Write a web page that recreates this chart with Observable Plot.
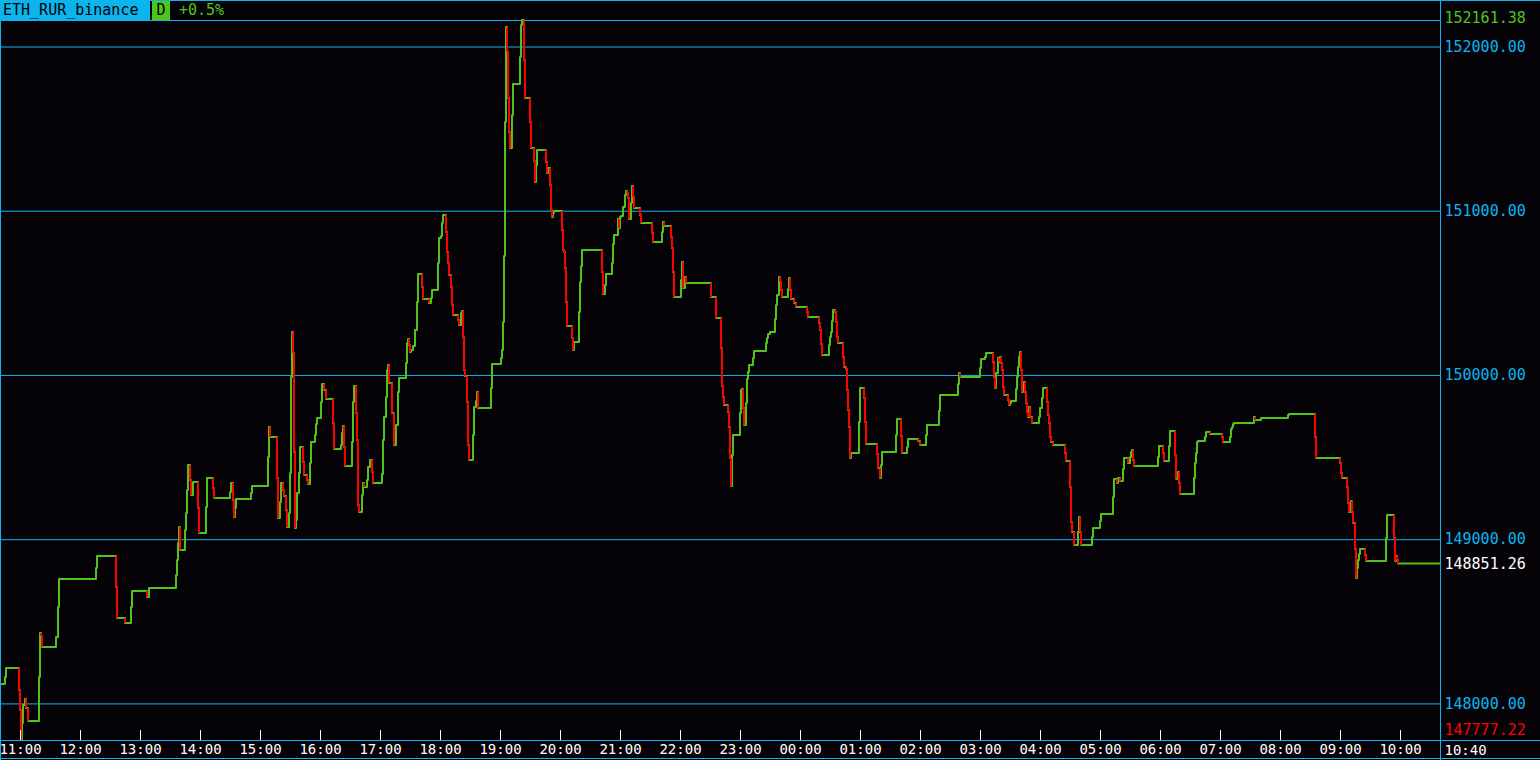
<!DOCTYPE html>
<html><head><meta charset="utf-8">
<script src="https://cdn.jsdelivr.net/npm/d3@7"></script>
<script src="https://cdn.jsdelivr.net/npm/@observablehq/plot@0.6"></script>
<style>
body{margin:0;background:#050308;overflow:hidden}
#wrap{position:relative;width:1540px;height:760px}
#hdr span{position:absolute;font:15px "DejaVu Sans Mono",monospace;white-space:pre}
</style></head><body>
<div id="wrap"><div id="chart"></div><div id="hdr"></div></div>
<script>
// ---- header values ----
const symbol = "ETH_RUR_binance";
const period = "D";
const change = "+0.5%";

// ---- price levels ----
const gridPrices = [148000, 149000, 150000, 151000, 152000];
const maxPrice = 152161.38;
const minPrice = 147777.22;
const lastPrice = 148851.26;

// ---- series: minutes since 10:40 (start) and price from that minute on ----
const minutes = [
0,5,6,19,20,21,22,23,25,26,28,39,40,41,42,56,58,59,96,97,116,117,125,131,132,147,149,
176,177,178,179,180,185,186,187,188,190,191,193,198,199,206,207,213,214,230,231,233,234,235,236,251,252,
268,269,270,277,278,280,281,283,284,286,287,289,290,291,292,293,294,295,296,297,299,300,303,304,307,308,
310,311,315,316,317,321,322,324,326,333,334,341,342,343,344,345,352,353,354,356,357,358,359,
362,363,364,367,368,370,372,373,382,383,384,386,387,388,389,392,394,396,398,399,406,407,408,409,410,
411,413,415,417,418,422,423,429,431,432,438,439,441,442,443,446,447,448,449,451,452,453,458,459,461,462,
463,464,465,467,468,469,473,474,476,477,478,491,492,501,502,503,504,505,506,507,508,509,510,512,513,
520,521,522,524,525,530,531,534,535,536,537,546,547,548,550,551,552,553,554,562,563,564,565,566,567,
572,573,574,579,580,581,582,602,603,605,606,612,613,614,618,619,620,621,623,625,626,627,628,629,631,632,
633,634,640,641,652,653,662,663,664,671,672,673,674,681,682,683,685,686,711,716,721,722,723,724,
728,729,730,731,732,733,740,741,742,743,744,746,747,748,749,753,754,766,767,768,770,775,776,777,779,
780,781,782,788,789,790,791,794,796,807,808,819,820,821,822,829,830,831,832,833,835,836,837,838,
843,844,846,847,848,849,850,851,859,860,864,865,866,877,878,880,881,882,896,897,901,902,907,908,
918,920,926,927,939,940,958,959,960,980,981,985,986,993,994,995,996,998,999,1000,1001,1002,1003,1004,
1008,1009,1010,1011,1016,1017,1018,1019,1020,1021,1022,1023,1024,1025,1026,1027,1028,1029,1030,1032,
1039,1040,1042,1043,1047,1048,1049,1050,1051,1053,1065,1066,1070,1071,1072,1074,1078,1079,1080,1081,
1092,1093,1100,1101,1113,1114,1117,1118,1120,1123,1124,1128,1130,1131,1132,1133,1134,1158,1159,1163,1164,
1169,1170,1175,1176,1177,1178,1179,1180,1194,1195,1196,1197,1198,1205,1206,1210,1222,1223,1230,1231,1232,
1233,1234,1254,1255,1261,1288,1289,1315,1316,1340,1341,1342,1347,1348,1349,1350,1351,1352,1353,1355,1356,
1357,1358,1359,1360,1365,1366,1386,1387,1394,1395,1396,1397,1398
];
const prices = [
148118,148161,148216,148082,147960,147777.22,147881,147990,148027,147972,147893,148161,148429,148410,148344,148404,148587,148758,148825,148898,148709,148520,148490,148587,148685,148648,148703,
148782,148873,148977,149074,148934,149056,149159,149300,149452,149360,149269,149348,149190,149038,149196,149373,149312,149251,149287,149342,149239,149135,149190,149245,149281,149324,
149500,149683,149622,149373,149129,149226,149342,149300,149263,149178,149074,149159,149403,149988,150262,150134,149531,149068,149117,149281,149403,149561,149470,149391,149360,149336,
149464,149592,149634,149701,149738,149835,149945,149908,149854,149707,149549,149574,149647,149689,149561,149446,149592,149835,149933,149768,149604,149208,149166,
149269,149342,149318,149360,149440,149482,149409,149342,149397,149604,149744,149866,150030,150061,149951,149768,149574,149695,149896,149981,150073,150195,150219,150182,150140,
150152,150176,150274,150444,150615,150536,150463,150438,150469,150517,150682,150834,150846,150925,150974,150870,150749,150682,150609,150536,150426,150365,150335,150304,150377,150389,
150231,150030,149994,149835,149574,149482,149634,149805,149841,149896,149799,149921,150067,150103,150152,150322,150724,151540,152119,151967,151686,151479,151382,151583,151772,
151936,152131,152161.38,151918,151686,151540,151382,151303,151175,151278,151370,151297,151230,151260,151157,151004,150962,150986,150998,150883,150761,150749,150651,150444,150298,
150225,150152,150201,150383,150566,150663,150761,150627,150493,150548,150615,150682,150797,150852,150950,150895,150962,150968,151023,151096,151120,151108,151078,150950,151047,151151,
151084,151017,150974,150925,150864,150810,150870,150931,150907,150840,150773,150627,150475,150578,150688,150530,150596,150560,150475,150347,150164,149933,149866,149817,
149774,149683,149494,149324,149513,149634,149768,149908,149914,149799,149695,149829,149975,150018,150061,150103,150146,150195,150225,150249,150262,150341,150426,150487,150596,
150566,150517,150475,150523,150590,150517,150463,150438,150414,150383,150353,150316,150274,150189,150122,150182,150231,150262,150329,150396,150383,150322,150231,150195,
150109,150048,150036,149908,149787,149683,149494,149525,149714,149921,149860,149714,149580,149519,149433,149373,149452,149531,149634,149732,149628,149525,149561,149610,
149598,149574,149634,149695,149781,149878,149945,150012,149988,150042,150097,150109,150134,150079,149988,149921,150012,150103,150079,150109,150073,150030,149927,149878,
149848,149817,149829,149841,149914,149988,150048,150109,150140,150030,149896,149927,149957,149896,149829,149774,149744,149805,149744,149707,
149744,149799,149860,149921,149835,149756,149707,149622,149592,149574,149525,149476,149318,149105,149044,148965,149044,149135,149044,148965,
149013,149068,149111,149153,149257,149366,149342,149373,149354,149427,149494,149464,149500,149531,149543,149482,149446,149500,149567,149525,149476,
149567,149659,149513,149366,149403,149409,149342,149275,149373,149464,149525,149592,149598,149622,149653,149640,149622,149592,149622,149671,149683,
149701,149707,149744,149726,149738,149756,149762,149622,149494,149464,149403,149373,149318,149220,149166,149220,149233,149166,149099,148940,148764,
148825,148873,148910,148940,148904,148867,149007,149147,149007,148867,148898,148873,148851.26
];

// ---- colours ----
const bg = "#050308", cyan = "#0cb4ee", green = "#50c41c", red = "#ff0000";

const startTime = new Date(2024, 0, 1, 10, 40);
const endTime = new Date(+startTime + 24 * 60 * 60000);
const toTime = m => new Date(+startTime + m * 60000);

const pts = minutes.map((m, i) => ({t: toTime(m), p: prices[i]}));
const linePts = pts.concat([{t: endTime, p: prices[prices.length - 1]}]);
const drops = [];
for (let i = 1; i < pts.length; i++) {
  if (pts[i].p < pts[i - 1].p) drops.push({t: pts[i].t, p0: pts[i - 1].p, p1: pts[i].p});
}
const hourTicks = d3.timeHour.range(startTime, endTime);
const fmt2 = d3.format(".2f");
const fmtT = d3.timeFormat("%H:%M");
const font = "DejaVu Sans Mono";

const chart = Plot.plot({
  width: 1540, height: 760,
  marginLeft: 0, marginRight: 100, marginTop: 20, marginBottom: 20,
  style: {background: "transparent", fontFamily: font, fontSize: "15px", color: "white", overflow: "visible"},
  x: {type: "time", domain: [startTime, endTime]},
  y: {domain: [minPrice, maxPrice]},
  marks: [
    Plot.ruleY(gridPrices, {stroke: cyan}),
    Plot.ruleY([maxPrice], {stroke: cyan}),
    Plot.line(linePts, {x: "t", y: "p", curve: "step-after", stroke: green, strokeWidth: 2, dx: -0.5, dy: -0.5}),
    Plot.link(drops, {x1: "t", x2: "t", y1: "p0", y2: "p1", stroke: red, strokeWidth: 2, dx: -0.5, dy: -0.5}),
    Plot.tickX(hourTicks, {x: d => d, stroke: "white", insetTop: 710}),
    Plot.ruleX([startTime], {stroke: cyan, insetTop: -20, insetBottom: -20}),
    Plot.ruleX([endTime], {stroke: cyan, insetTop: -20, insetBottom: -20}),
    Plot.ruleY([maxPrice], {stroke: cyan, dy: -20, insetRight: -100}),
    Plot.ruleY([minPrice], {stroke: cyan, insetRight: -100}),
    Plot.ruleY([minPrice], {stroke: cyan, dy: 18, insetRight: -100}),
    Plot.axisY(gridPrices, {anchor: "right", tickSize: 0, tickPadding: 4, tickFormat: fmt2, color: cyan, fontSize: 15, label: null}),
    Plot.axisX(hourTicks, {anchor: "bottom", tickSize: 0, tickPadding: 4, tickFormat: fmtT, color: "white", fontSize: 14, label: null}),
    Plot.text([maxPrice], {y: d => d, frameAnchor: "right", dx: 4, dy: -2, textAnchor: "start", fill: green, fontSize: 15, text: fmt2}),
    Plot.text([lastPrice], {y: d => d, frameAnchor: "right", dx: 4, textAnchor: "start", fill: "white", fontSize: 15, text: fmt2}),
    Plot.text([minPrice], {y: d => d, frameAnchor: "right", dx: 4, dy: -10, textAnchor: "start", fill: red, fontSize: 15, text: fmt2}),
    Plot.text([endTime], {x: d => d, frameAnchor: "bottom", lineAnchor: "middle", dx: 4, dy: 10, textAnchor: "start", fill: "white", fontSize: 14, text: fmtT})
  ]
});
document.getElementById("chart").appendChild(chart);

// header
const hdr = document.getElementById("hdr");
function addSpan(txt, css) {
  const s = document.createElement("span");
  s.textContent = txt;
  Object.assign(s.style, css);
  hdr.appendChild(s);
}
addSpan(symbol, {left: "0px", top: "0px", width: "147px", height: "20px", lineHeight: "20px", paddingLeft: "3px", background: cyan, color: "#000"});
addSpan(period, {left: "152px", top: "1px", width: "18px", height: "19px", lineHeight: "19px", textAlign: "center", background: green, color: "#000"});
addSpan(change, {left: "179px", top: "0px", height: "20px", lineHeight: "20px", color: green});
</script>
</body></html>
